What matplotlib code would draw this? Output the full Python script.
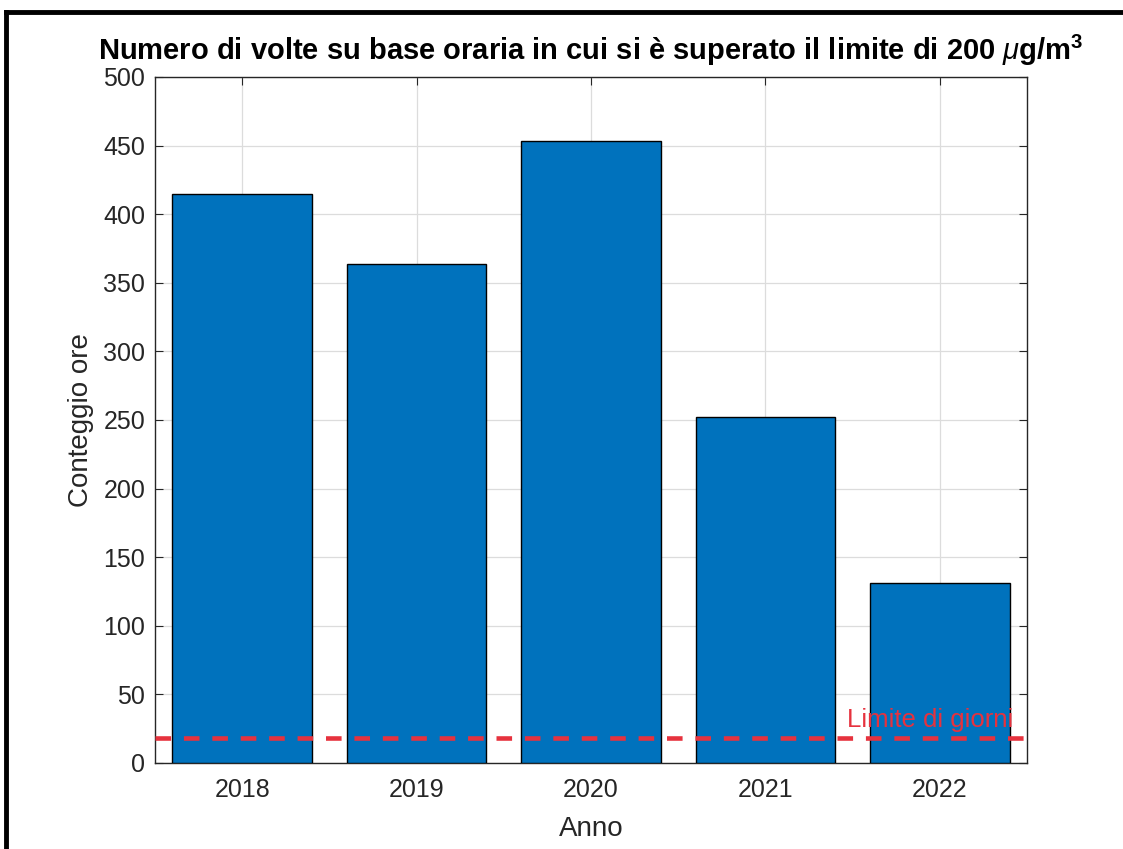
import numpy as np
import matplotlib.pyplot as plt
from matplotlib.lines import Line2D

# data
anni = ['2018', '2019', '2020', '2021', '2022']
conteggio_ore = [415, 364, 453, 252, 131]
limite_giorni = 18

plt.rcParams['font.family'] = ['Liberation Sans', 'DejaVu Sans']
plt.rcParams['mathtext.fontset'] = 'custom'
plt.rcParams['mathtext.it'] = 'Liberation Sans:italic'
plt.rcParams['mathtext.rm'] = 'Liberation Sans:bold'

fig = plt.figure(figsize=(11.23, 8.49), dpi=100)
ax = fig.add_axes([155 / 1123, 1 - 763 / 849, 872 / 1123, 686 / 849])

x = np.arange(len(anni))
ax.bar(x, conteggio_ore, width=0.8, color='#0072BD', edgecolor='black',
       linewidth=1.0, zorder=3)
ax.axhline(limite_giorni, color='#E6323E', linestyle=(0, (3.4, 2.8)),
           linewidth=3.3, zorder=4)
ax.text(x[-1] + 0.42, limite_giorni + 8.5, 'Limite di giorni', color='#E6323E',
        fontsize=18.5, ha='right', va='baseline', zorder=5)

ax.set_xlim(-0.5, len(anni) - 0.5)
ax.set_ylim(0, 500)
ax.set_xticks(x)
ax.set_xticklabels(anni)
ax.set_yticks(np.arange(0, 501, 50))
ax.tick_params(direction='in', length=6, labelsize=18, colors='#262626',
               top=True, right=True)
ax.tick_params(axis='x', pad=11)
ax.tick_params(axis='y', pad=7)
ax.grid(True, color='#DCDCDC', linewidth=0.9, zorder=0)
ax.set_axisbelow(True)
for s in ax.spines.values():
    s.set_color('#262626')
    s.set_linewidth(1.0)

ax.set_xlabel('Anno', fontsize=20, color='#262626', labelpad=10)
ax.set_ylabel('Conteggio ore', fontsize=20, color='#262626', labelpad=7)
ax.set_title(r'Numero di volte su base oraria in cui si è superato il limite di 200 $\mu$g/m$^3$',
             fontsize=21, fontweight='bold', pad=12)

# black frame left and top
fig.add_artist(Line2D([6 / 1123, 6 / 1123], [0, 1 - 12 / 849], color='black',
                      linewidth=3.5, transform=fig.transFigure))
fig.add_artist(Line2D([6 / 1123, 1], [1 - 12 / 849, 1 - 12 / 849], color='black',
                      linewidth=3.5, transform=fig.transFigure))

plt.savefig('out.png', dpi=100)
